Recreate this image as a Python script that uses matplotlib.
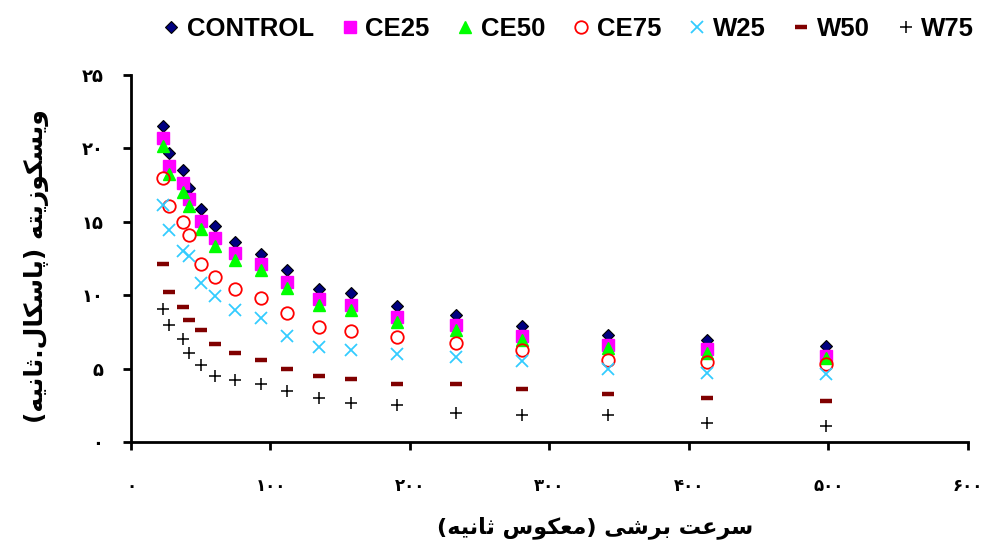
import numpy as np
import matplotlib.pyplot as plt

# shear rate (1/s)
sorat = [22.7, 27.5, 37, 41.5, 50, 60, 74.5, 93, 112, 135, 158, 190.5, 233, 280, 342, 413, 498]

# viscosity (Pa.s)
control = [21.56, 19.7, 18.56, 17.3, 15.9, 14.75, 13.6, 12.84, 11.7, 10.43, 10.12, 9.25, 8.67, 7.89, 7.32, 6.93, 6.53]
ce25 = [20.72, 18.79, 17.66, 16.57, 15.04, 13.91, 12.89, 12.16, 10.91, 9.71, 9.3, 8.5, 7.94, 7.25, 6.64, 6.35, 5.89]
ce50 = [20.15, 18.29, 17.02, 16.06, 14.48, 13.34, 12.38, 11.7, 10.5, 9.3, 8.96, 8.16, 7.66, 6.98, 6.42, 6.08, 5.73]
ce75 = [18.0, 16.11, 15.02, 14.07, 12.14, 11.23, 10.43, 9.8, 8.8, 7.82, 7.55, 7.17, 6.76, 6.3, 5.62, 5.44, 5.28]
w25 = [16.16, 14.41, 13.0, 12.66, 10.84, 9.93, 8.96, 8.46, 7.25, 6.46, 6.3, 6.01, 5.82, 5.5, 4.99, 4.71, 4.6]
w50 = [12.14, 10.25, 9.21, 8.34, 7.62, 6.66, 6.03, 5.62, 5.0, 4.48, 4.26, 3.98, 3.96, 3.62, 3.3, 3.01, 2.78]
w75 = [9.03, 7.94, 7.03, 6.08, 5.23, 4.53, 4.19, 3.98, 3.48, 3.0, 2.67, 2.51, 1.99, 1.87, 1.81, 1.31, 1.12]

names = ['CONTROL', 'CE25', 'CE50', 'CE75', 'W25', 'W50', 'W75']
xticks = [0, 100, 200, 300, 400, 500, 600]
yticks = [0, 5, 10, 15, 20, 25]

# arabic letter forms: isolated, final, initial, medial
FORMS = {
    'ا': ('\uFE8D', '\uFE8E', None, None),
    'ب': ('\uFE8F', '\uFE90', '\uFE91', '\uFE92'),
    'ت': ('\uFE95', '\uFE96', '\uFE97', '\uFE98'),
    'ث': ('\uFE99', '\uFE9A', '\uFE9B', '\uFE9C'),
    'ر': ('\uFEAD', '\uFEAE', None, None),
    'ز': ('\uFEAF', '\uFEB0', None, None),
    'س': ('\uFEB1', '\uFEB2', '\uFEB3', '\uFEB4'),
    'ش': ('\uFEB5', '\uFEB6', '\uFEB7', '\uFEB8'),
    'ع': ('\uFEC9', '\uFECA', '\uFECB', '\uFECC'),
    'ل': ('\uFEDD', '\uFEDE', '\uFEDF', '\uFEE0'),
    'م': ('\uFEE1', '\uFEE2', '\uFEE3', '\uFEE4'),
    'ن': ('\uFEE5', '\uFEE6', '\uFEE7', '\uFEE8'),
    'ه': ('\uFEE9', '\uFEEA', '\uFEEB', '\uFEEC'),
    'و': ('\uFEED', '\uFEEE', None, None),
    'پ': ('\uFB56', '\uFB57', '\uFB58', '\uFB59'),
    'ک': ('\uFB8E', '\uFB8F', '\uFB90', '\uFB91'),
    'ی': ('\uFBFC', '\uFBFD', '\uFBFE', '\uFBFF'),
}
MIRROR = {'(': ')', ')': '('}


def farsi(txt):
    out = []
    for i, c in enumerate(txt):
        if c not in FORMS:
            out.append(MIRROR.get(c, c))
            continue
        iso, fin, ini, med = FORMS[c]
        prev = txt[i - 1] if i > 0 else ''
        nxt = txt[i + 1] if i + 1 < len(txt) else ''
        a = prev in FORMS and FORMS[prev][2] is not None
        b = nxt in FORMS and ini is not None
        if a and b:
            out.append(med)
        elif a:
            out.append(fin)
        elif b:
            out.append(ini)
        else:
            out.append(iso)
    return ''.join(reversed(out))


def fa_num(n):
    return ''.join(chr(0x06F0 + int(d)) for d in str(n))


fig = plt.figure(figsize=(9.87, 5.52), dpi=100)
ax = fig.add_axes([0.1327, 0.1993, 0.848, 0.6647])

ax.plot(sorat, control, ls='none', marker='D', ms=6.5, mfc='#000080', mec='#000000', mew=0.8, label=names[0])
ax.plot(sorat, ce25, ls='none', marker='s', ms=9, mfc='#FF00FF', mec='#FF00FF', label=names[1])
ax.plot(sorat, ce50, ls='none', marker='^', ms=9, mfc='#00FF00', mec='#00FF00', label=names[2])
ax.plot(sorat, ce75, ls='none', marker='o', ms=9, mfc='none', mec='#FF0000', mew=1.3, label=names[3])
ax.plot(sorat, w25, ls='none', marker='x', ms=9, mec='#33CCFF', mew=1.3, label=names[4])
ax.plot(sorat, w50, ls='none', marker='_', ms=9, mec='#800000', mew=3.2, label=names[5])
ax.plot(sorat, w75, ls='none', marker='+', ms=9, mec='#000000', mew=1.1, label=names[6])

ax.set_xlim(0, 600)
ax.set_ylim(0, 25)
ax.set_xticks(xticks)
ax.set_yticks(yticks)
ax.set_xticklabels([fa_num(t) for t in xticks], fontsize=12, fontweight='bold')
ax.set_yticklabels([fa_num(t) for t in yticks], fontsize=13, fontweight='bold')
ax.tick_params(axis='x', direction='out', length=6, width=2, pad=19)
ax.tick_params(axis='y', direction='out', length=6, width=2, pad=14)

for s in ['top', 'right']:
    ax.spines[s].set_visible(False)
for s in ['left', 'bottom']:
    ax.spines[s].set_linewidth(2)

ax.set_xlabel(farsi('سرعت برشی (معکوس ثانیه)'), fontsize=16, fontweight='bold', va='center')
ax.set_ylabel(farsi('ویسکوزیته (پاسکال.ثانیه)'), fontsize=18, fontweight='bold', va='center')
ax.xaxis.set_label_coords(0.554, -0.234)
ax.yaxis.set_label_coords(-0.1135, 0.48)

leg = ax.legend(loc='upper center', bbox_to_anchor=(0.523, 1.22), ncol=7, frameon=False, numpoints=1,
                handlelength=0.6, handletextpad=0.3, columnspacing=1.1,
                prop={'family': 'Liberation Sans', 'weight': 'bold', 'size': 18.5})

fig.savefig('out.png', dpi=100)
